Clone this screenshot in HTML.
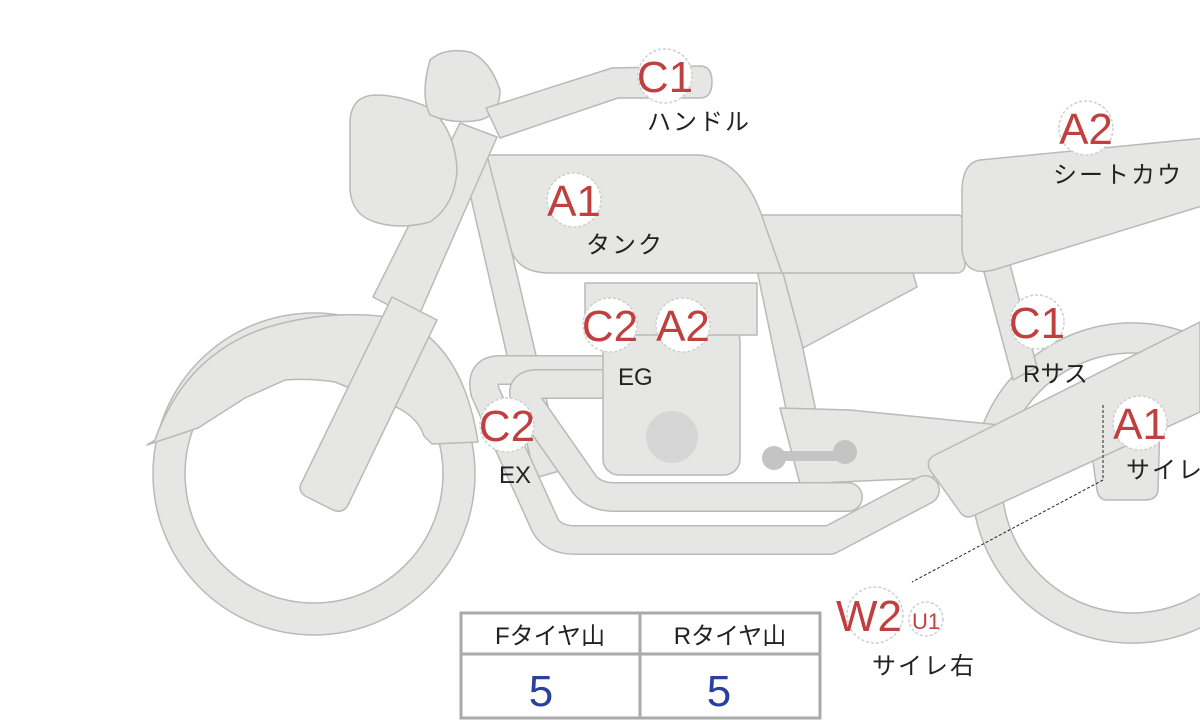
<!DOCTYPE html>
<html><head><meta charset="utf-8"><style>
html,body{margin:0;padding:0;background:#fff;width:1200px;height:720px;overflow:hidden}
svg{display:block}
.t{font-family:"Liberation Sans","Noto Sans CJK JP",sans-serif}
</style></head><body>
<svg width="1200" height="720" viewBox="0 0 1200 720" xmlns="http://www.w3.org/2000/svg">
<g fill="#e6e6e4" stroke="#b9b9b9" stroke-width="1.5" stroke-linejoin="round">
<path fill-rule="evenodd" d="M972,483a160,160 0 1,0 320,0a160,160 0 1,0 -320,0Z M1002,483a130,130 0 1,0 260,0a130,130 0 1,0 -260,0Z"/>
<path fill-rule="evenodd" d="M153,474a161,161 0 1,0 322,0a161,161 0 1,0 -322,0Z M185,474a129,129 0 1,0 258,0a129,129 0 1,0 -258,0Z"/>
<path d="M147,445 L155,440 Q185,355 265,328 Q330,308 395,318 Q462,340 478,442 L432,444 L424,436 Q418,418 398,408 L335,382 Q310,378 285,380 L245,398 L198,428 Z"/>
<path d="M460,150 L490,160 L563,470 L535,478 Z"/>
<path d="M757,270 L785,262 L825,455 L797,462 Z"/>
<path d="M980,257 L1007,253 L1037,367 L1013,380 Z"/>
<path d="M780,408 L850,410 L1000,425 L1010,450 L930,478 L840,482 L800,484 Z"/>
<path d="M600,370 L500,370 Q480,370 485,392 L545,525 Q553,540 575,540 L830,540 L925,490" fill="none" stroke="#b9b9b9" stroke-width="30" stroke-linecap="round"/>
<path d="M600,370 L500,370 Q480,370 485,392 L545,525 Q553,540 575,540 L830,540 L925,490" fill="none" stroke="#e6e6e4" stroke-width="27" stroke-linecap="round"/>
<path d="M600,384 L535,384 Q518,386 527,402 L585,485 Q595,497 615,497 L848,497" fill="none" stroke="#b9b9b9" stroke-width="30" stroke-linecap="round"/>
<path d="M600,384 L535,384 Q518,386 527,402 L585,485 Q595,497 615,497 L848,497" fill="none" stroke="#e6e6e4" stroke-width="27" stroke-linecap="round"/>
<rect x="603" y="325" width="137" height="150" rx="16"/>
<rect x="585" y="283" width="172" height="52"/>
<path d="M1090,440 L1160,420 L1158,490 Q1157,500 1145,500 L1105,500 Q1098,498 1097,490 Z"/>
<path d="M930,470 Q925,460 935,455 L1200,322 L1200,412 L975,515 Q965,520 960,512 Z"/>
<path d="M783,273 L913,273 L917,287 L803,348 Z"/>
<rect x="752" y="215" width="213" height="58" rx="8"/>
<path d="M980,160 L1205,138 L1205,205 L1000,268 Q965,280 962,250 L962,192 Q962,163 980,160 Z"/>
<path d="M487,155 L700,155 Q745,160 765,225 L782,273 L550,273 Q515,273 510,245 Z"/>
<path d="M373,297 L460,123 L497,137 L417,320 Z"/>
<path d="M392,297 L437,320 L348,505 Q343,514 333,510 L305,496 Q297,490 302,482 Z"/>
<path d="M375,95 Q400,95 430,108 Q455,130 457,170 Q455,205 430,222 Q400,230 375,222 Q352,215 350,190 L350,120 Q352,96 375,95 Z"/>
<path d="M430,60 Q445,47 470,52 Q490,60 500,90 Q500,115 480,120 Q455,125 430,115 Q420,95 430,60 Z"/>
<path d="M486,108 L612,68 L700,66 Q712,66 712,82 Q712,98 700,98 L618,98 L500,138 Z"/>
<circle cx="672" cy="437" r="26" fill="#d6d6d6" stroke="none"/>
<rect x="774" y="451" width="72" height="10" fill="#c4c4c4" stroke="none"/>
<circle cx="774" cy="458" r="12" fill="#c4c4c4" stroke="none"/>
<circle cx="845" cy="452" r="12" fill="#c4c4c4" stroke="none"/>
</g>
<path d="M1103,405 L1103,480 L912,582" fill="none" stroke="#222" stroke-width="1" stroke-dasharray="3,2"/>
<g fill="#fff" stroke="#cfcfcf" stroke-width="1.5" stroke-dasharray="3,2">
<circle cx="665" cy="76" r="27"/>
<circle cx="574" cy="200" r="27"/>
<circle cx="610" cy="325" r="27"/>
<circle cx="683" cy="325" r="27"/>
<circle cx="507" cy="425" r="27"/>
<circle cx="1086" cy="128" r="27"/>
<circle cx="1037" cy="322" r="27"/>
<circle cx="1140" cy="423" r="27"/>
<circle cx="875" cy="615" r="28"/>
<circle cx="926" cy="619" r="17"/>
</g>
<g class="t" fill="#c03f3f" font-size="44" text-anchor="middle">
<text x="665" y="92">C1</text>
<text x="574" y="216">A1</text>
<text x="610" y="341">C2</text>
<text x="683" y="341">A2</text>
<text x="507" y="441">C2</text>
<text x="1086" y="144">A2</text>
<text x="1037" y="338">C1</text>
<text x="1140" y="439">A1</text>
<text x="869" y="631">W2</text>
<text x="926" y="629" font-size="22">U1</text>
</g>
<g class="t" fill="#222" font-size="24" letter-spacing="2">
<text x="647" y="130">ハンドル</text>
<text x="586" y="253">タンク</text>
<text x="618" y="385" letter-spacing="0">EG</text>
<text x="499" y="483" letter-spacing="0">EX</text>
<text x="1053" y="183">シートカウ</text>
<text x="1023" y="382" letter-spacing="0">Rサス</text>
<text x="1126" y="478">サイレ</text>
<text x="872" y="674">サイレ右</text>
</g>
<g fill="#fff" stroke="#aaaaaa" stroke-width="3">
<rect x="461" y="613" width="359" height="105"/>
<line x1="461" y1="654" x2="820" y2="654"/>
<line x1="640" y1="613" x2="640" y2="718"/>
</g>
<g class="t" text-anchor="middle">
<text x="550" y="644" font-size="24" fill="#222">Fタイヤ山</text>
<text x="730" y="644" font-size="24" fill="#222">Rタイヤ山</text>
<text x="541" y="706" font-size="44" fill="#2b3f9c">5</text>
<text x="719" y="706" font-size="44" fill="#2b3f9c">5</text>
</g>
</svg>
</body></html>
